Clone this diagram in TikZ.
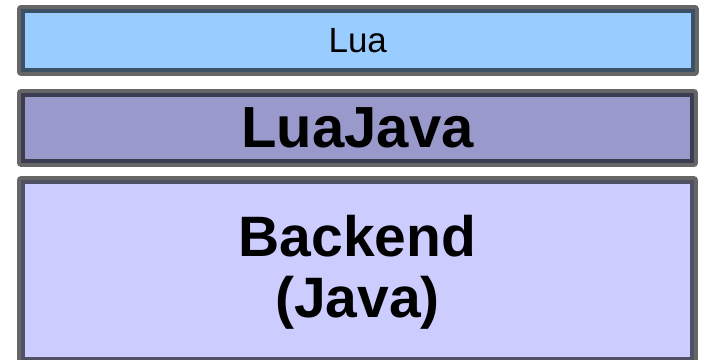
\documentclass[tikz,border=0pt]{standalone}
\usepackage{fontspec}
\setmainfont{Liberation Sans}
\begin{document}
\begin{tikzpicture}[x=1pt,y=-1pt,
  layer/.style={draw=black, draw opacity=0.6, line width=8pt, line join=round,
    inner sep=0pt, align=center, text=black},
  toplayer/.style={layer, fill=luablue},
  midlayer/.style={layer, fill={rgb,255:red,153;green,153;blue,204}},
  botlayer/.style={layer, fill={rgb,255:red,204;green,204;blue,255}}]
\useasboundingbox (0,0) rectangle (704,359);
\definecolor{luablue}{RGB}{153,204,255}
\node[toplayer, minimum width=673.5pt, minimum height=63.5pt,
  font=\fontsize{35}{40}\selectfont] (lua) at (357.75,40.25) {Lua};
\node[midlayer, minimum width=673pt, minimum height=70.5pt,
  font=\bfseries\fontsize{58}{60}\selectfont] (luajava) at (357.5,127.75) {LuaJava};
\node[botlayer, minimum width=672.5pt, minimum height=181pt] (backend) at (357.25,270.5) {};
\node[inner sep=0pt, align=center, font=\bfseries\fontsize{57}{61}\selectfont]
  (backendtext) at (357.5,272) {Backend\\(Java)};
\end{tikzpicture}
\end{document}
